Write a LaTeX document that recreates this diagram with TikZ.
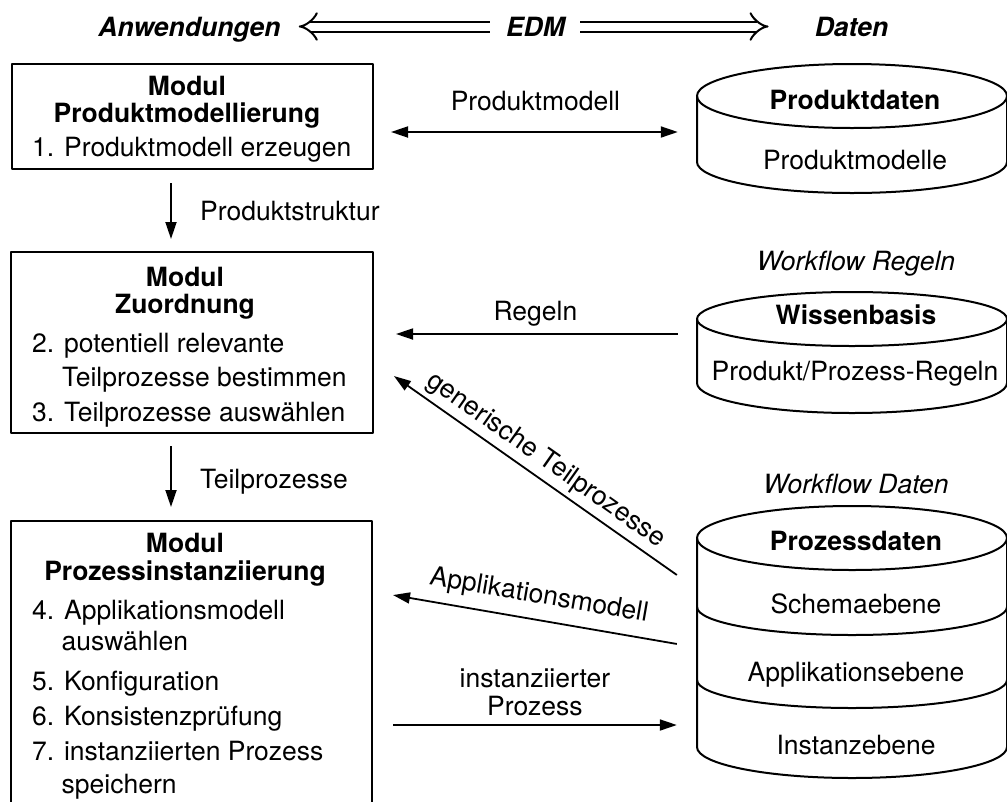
\documentclass[tikz,border=0pt]{standalone}
\usepackage{fontspec}
\setmainfont{TeX Gyre Heros}
\usetikzlibrary{arrows.meta,calc}

\tikzset{
  txt/.style={inner sep=0pt, font=\fontsize{26.5}{28}\selectfont},
  ttl/.style={inner sep=0pt, font=\fontsize{26.5}{28}\selectfont\bfseries},
  hdr/.style={inner sep=0pt, font=\fontsize{26.5}{28}\selectfont\bfseries\itshape},
  storecap/.style={inner sep=0pt, font=\fontsize{26.5}{28}\selectfont\itshape},
  modbox/.style={draw, line width=2pt, inner sep=0pt},
  drum/.style={inner sep=0pt, minimum width=310pt},
  ln/.style={line width=2pt},
  arr/.style={line width=1.8pt, ->},
  dblarr/.style={line width=2pt, double distance=8pt, -{Implies[length=11pt, width=26pt]}},
}

\begin{document}
\begin{tikzpicture}[x=1pt, y=1pt, line join=round,
    >={Triangle[length=17pt, width=11pt]}]
\useasboundingbox (0,0) rectangle (1007,-801);

% ---------- header ----------
\node[hdr, anchor=base] (anw) at (189.5,-36) {Anwendungen};
\node[hdr, anchor=base] (edm) at (535.5,-36) {EDM};
\node[hdr, anchor=base] (dat) at (851.5,-36) {Daten};
\coordinate (hy) at (0,-26.5);
\draw[dblarr, shorten <=16pt, shorten >=18pt] (edm.west |- hy) -- (anw.east |- hy);
\draw[dblarr, shorten <=15pt, shorten >=46pt] (edm.east |- hy) -- (dat.west |- hy);

% ---------- module boxes ----------
\node[modbox, minimum width=361pt, minimum height=105pt] (b1) at (192.5,-116.5) {};
\node[ttl, anchor=base] (b1t1) at (187,-95) {Modul};
\node[ttl, anchor=base] (b1t2) at (187,-122.7) {Produktmodellierung};
\node[txt, anchor=base west] (b1i1) at (32,-156.5) {1. Produktmodell erzeugen};

\node[modbox, minimum width=362pt, minimum height=181pt] (b2) at (192,-342.5) {};
\node[ttl, anchor=base] (b2t1) at (185,-286.7) {Modul};
\node[ttl, anchor=base] (b2t2) at (185,-313) {Zuordnung};
\node[txt, anchor=base west] (b2i1) at (32,-352.7) {2. potentiell relevante};
\node[txt, anchor=base west] (b2i1b) at (62,-386) {Teilprozesse bestimmen};
\node[txt, anchor=base west] (b2i2) at (32,-421.7) {3. Teilprozesse auswählen};

\node[modbox, minimum width=361pt, minimum height=309pt] (b3) at (191.5,-675.5) {};
\node[ttl, anchor=base] (b3t1) at (185,-552.7) {Modul};
\node[ttl, anchor=base] (b3t2) at (185,-580) {Prozessinstanziierung};
\node[txt, anchor=base west] (b3i1) at (32,-619) {4. Applikationsmodell};
\node[txt, anchor=base west] (b3i1b) at (61.5,-650.7) {auswählen};
\node[txt, anchor=base west] (b3i2) at (32,-690) {5. Konfiguration};
\node[txt, anchor=base west] (b3i3) at (32,-725) {6. Konsistenzprüfung};
\node[txt, anchor=base west] (b3i4) at (32,-760) {7. instanziierten Prozess};
\node[txt, anchor=base west] (b3i4b) at (61.5,-793) {speichern};

% ---------- data stores ----------
% Produktdaten
\node[drum, minimum height=130pt] (cylA) at (852,-128) {};
\draw[ln] (852,-96) ellipse [x radius=155pt, y radius=32pt];
\draw[ln] (697,-96) -- (697,-162) arc[start angle=180, end angle=360, x radius=155pt, y radius=31pt] -- (1007,-96);
\node[ttl, anchor=base] (cAt) at (855,-109.3) {Produktdaten};
\node[txt, anchor=base] (cAi) at (855,-169.3) {Produktmodelle};

% Wissenbasis
\node[storecap, anchor=base] (cBc) at (856,-270.7) {Workflow Regeln};
\node[drum, minimum height=120pt] (cylB) at (852,-352) {};
\draw[ln] (852,-319) ellipse [x radius=155pt, y radius=27pt];
\draw[ln] (697,-319) -- (697,-383) arc[start angle=180, end angle=360, x radius=155pt, y radius=30pt] -- (1007,-319);
\node[ttl, anchor=base] (cBt) at (856,-324.3) {Wissenbasis};
\node[txt, anchor=base] (cBi) at (855,-380.7) {Produkt/Prozess-Regeln};

% Prozessdaten
\node[storecap, anchor=base] (cCc) at (856,-493.3) {Workflow Daten};
\node[drum, minimum height=271pt] (cylC) at (852,-642.5) {};
\draw[ln] (852,-538) ellipse [x radius=155pt, y radius=32pt];
\draw[ln] (697,-538) -- (697,-747) arc[start angle=180, end angle=360, x radius=155pt, y radius=31pt] -- (1007,-538);
\draw[ln] (697,-607) arc[start angle=180, end angle=360, x radius=155pt, y radius=28pt];
\draw[ln] (697,-680) arc[start angle=180, end angle=360, x radius=155pt, y radius=28pt];
\node[ttl, anchor=base] (cCt) at (856,-550) {Prozessdaten};
\node[txt, anchor=base] (cCs) at (856,-613.3) {Schemaebene};
\node[txt, anchor=base] (cCa) at (856,-681) {Applikationsebene};
\node[txt, anchor=base] (cCi) at (856,-754) {Instanzebene};

% ---------- connectors ----------
\coordinate (ax) at (171,0);
\draw[arr, shorten <=13pt, shorten >=12pt] (b1.south -| ax) -- (b2.north -| ax);
\node[txt, anchor=base west] (lps) at (200,-220.7) {Produktstruktur};
\draw[arr, shorten <=12pt, shorten >=13pt] (b2.south -| ax) -- (b3.north -| ax);
\node[txt, anchor=base west] (ltp) at (200,-488.3) {Teilprozesse};

\coordinate (pmy) at (0,-132);
\draw[arr, <->, shorten <=17pt, shorten >=19pt] (b1.east |- pmy) -- (cylA.west |- pmy)
  node[txt, midway, above=20pt] {Produktmodell};

\coordinate (rgy) at (0,-334);
\draw[arr, shorten <=19pt, shorten >=22pt] (cylB.west |- rgy) -- (b2.east |- rgy)
  node[txt, midway, above=6.7pt] {Regeln};

\coordinate (gsa) at (0,-589);
\coordinate (gsb) at (0,-362);
\draw[arr, shorten <=24.4pt, shorten >=24.4pt] (cylC.west |- gsa) -- (b2.east |- gsb)
  node[txt, midway, sloped, above=5pt] {generische Teilprozesse};

\coordinate (ama) at (0,-647.4);
\coordinate (amb) at (0,-591.6);
\draw[arr, shorten <=20.3pt, shorten >=20.3pt] (cylC.west |- ama) -- (b3.east |- amb)
  node[txt, midway, sloped, above=10pt] {Applikationsmodell};

\coordinate (iy) at (0,-725);
\draw[arr, shorten <=20pt, shorten >=20pt] (b3.east |- iy) -- (cylC.west |- iy)
  node[txt, midway, above=8pt, align=center] {instanziierter\\Prozess};

\end{tikzpicture}
\end{document}
